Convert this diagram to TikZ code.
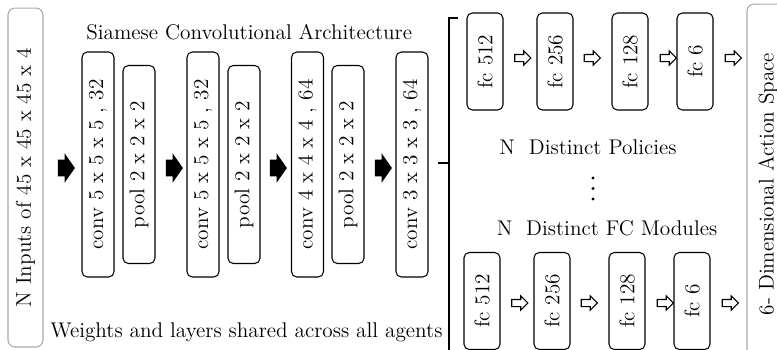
\documentclass[tikz,border=0pt]{standalone}
\usetikzlibrary{shapes.arrows,positioning}
\definecolor{Frame}{HTML}{A9A9A9}

\begin{document}
\begin{tikzpicture}[x=0.02cm,y=-0.02cm,
    txt/.style={font=\fontsize{12.1}{14}\selectfont,inner sep=0pt},
    layer/.style={txt,draw,rounded corners=3pt,rotate=90,line width=0.6pt},
    conv/.style={layer,minimum width=4.5cm,minimum height=0.64cm},
    pool/.style={layer,minimum width=3.96cm,minimum height=0.64cm},
    fc/.style={layer,minimum width=1.94cm,minimum height=0.72cm},
    frame/.style={txt,draw=Frame,rounded corners=4pt,rotate=90,line width=0.6pt},
    fullarr/.style={single arrow,fill=black,inner xsep=0pt,inner ysep=0.16cm,minimum height=0.34cm,
      single arrow head extend=0.13cm,single arrow tip angle=110},
    openarr/.style={single arrow,draw,line width=0.6pt,inner xsep=0pt,inner ysep=0.06cm,
      minimum height=0.32cm,single arrow head extend=0.07cm}
  ]
    \clip (0,0) rectangle (777,349);
    % inputs and outputs
    \node[frame,minimum width=6.78cm,minimum height=0.7cm] (inp) at (25.5,177.5)
      {N Inputs of 45 x 45 x 45 x 4};
    \node[frame,minimum width=7.2cm,minimum height=0.84cm] (act) at (768,184)
      {6- Dimensional Action Space};
    \node[txt,anchor=north west] (title) at (86,24) {Siamese Convolutional Architecture};
    \node[txt,anchor=south west] (shared) at (50,342) {Weights and layers shared across all agents};

    % shared convolutional part
    \foreach \x/\name/\kind/\lab in {
      98/c1/conv/{conv 5 x 5 x 5 , 32}, 139/p1/pool/{pool 2 x 2 x 2},
      203/c2/conv/{conv 5 x 5 x 5 , 32}, 244/p2/pool/{pool 2 x 2 x 2},
      307.5/c3/conv/{conv 4 x 4 x 4 , 64}, 348/p3/pool/{pool 2 x 2 x 2},
      412/c4/conv/{conv 3 x 3 x 3 , 64}}{
      \node[\kind] (\name) at (\x,164.5) {\lab};
    }
    \foreach \x [count=\i] in {63.5,171.5,275.5,380.5}
      \node[fullarr] (sa\i) at (\x,168) {};

    % bracket
    \draw[line width=1.3pt] (458,18) -- (449,18) -- (449,360);
    \draw[line width=1.3pt] (449,163) -- (438,163);

    % N distinct fc modules
    \foreach \x/\y/\row in {485/61.5/t,482/301/b}{
      \foreach \dx/\name/\lab in {0/1/{fc 512},70/2/{fc 256},145/3/{fc 128},210/4/{fc 6}}
        \node[fc] (\row\name) at (\x+\dx,\y) {\lab};
    }
    \foreach \x [count=\i] in {521,590.5,666.5,731.5}{
      \node[openarr] (ta\i) at (\x,58) {};
      \node[openarr] (ba\i) at (\x-3,303) {};
    }
    \node[txt] (pol) at (588,147) {N\ \ Distinct Policies};
    \node[txt] (mods) at (607,228) {N\ \ Distinct FC Modules};
    \foreach \y in {178,188.5,199}
      \fill (593,\y) circle (1.6);
\end{tikzpicture}
\end{document}
